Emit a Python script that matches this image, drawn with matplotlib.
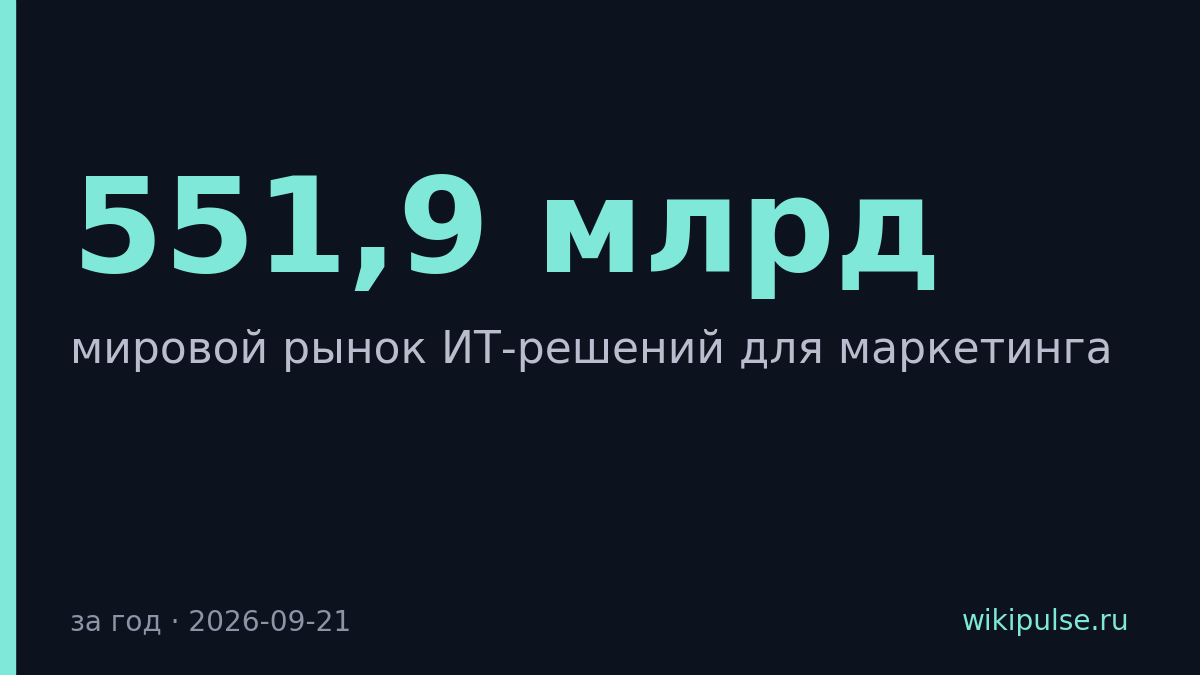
import matplotlib.pyplot as plt
from matplotlib.patches import Rectangle

# card content
headline = "551,9 млрд"
subtitle = "мировой рынок ИТ-решений для маркетинга"
footer_left = "за год · 2026-09-21"
footer_right = "wikipulse.ru"

bg = "#0d131e"
teal = "#80e8d9"

W, H = 1200, 675
fig = plt.figure(figsize=(12, 6.75), dpi=100)
fig.patch.set_facecolor(bg)

# accent bar on the left
fig.patches.append(Rectangle((0, 0), 15 / W, 1, transform=fig.transFigure,
                             color=teal, zorder=2))

def px(x, y):
    return x / W, 1 - y / H

fig.text(*px(72, 272), headline, color=teal, fontsize=95, fontweight="bold",
         family="DejaVu Sans", ha="left", va="baseline")
fig.text(*px(70, 363), subtitle, color="#b9bdce", fontsize=31.7,
         family="DejaVu Sans", ha="left", va="baseline")
fig.text(*px(70, 630), footer_left, color="#8c94a7", fontsize=20.2,
         family="DejaVu Sans", ha="left", va="baseline")
fig.text(*px(1129, 630), footer_right, color=teal, fontsize=20.2,
         family="DejaVu Sans", ha="right", va="baseline")

fig.savefig("out.png", dpi=100, facecolor=bg)
